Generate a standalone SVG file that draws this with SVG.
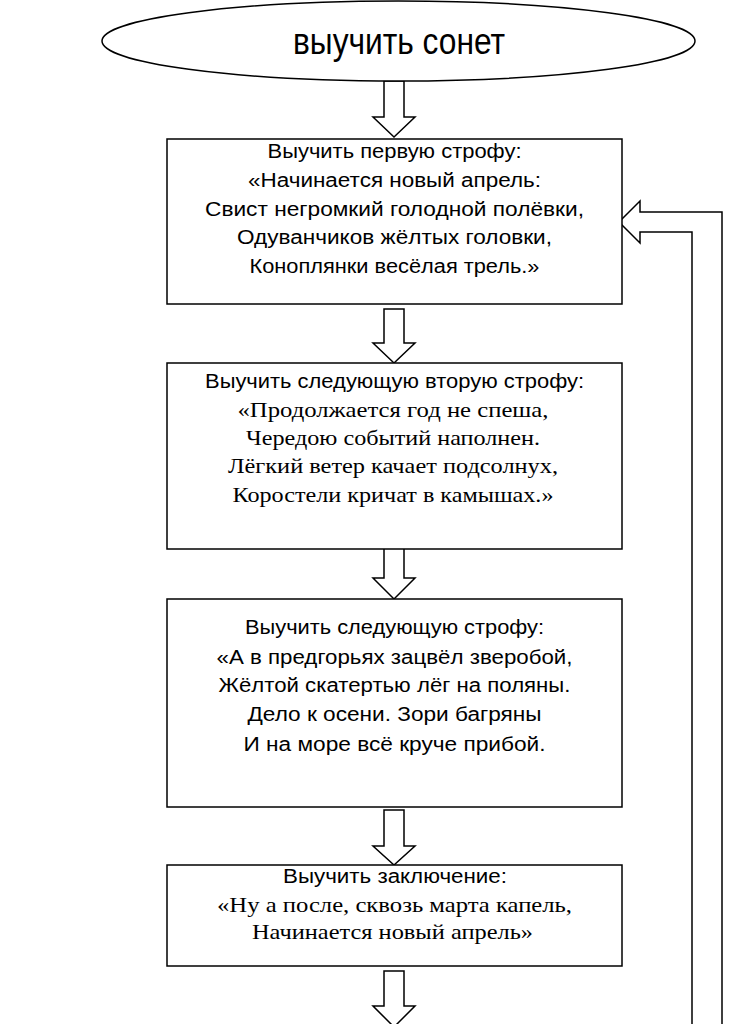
<svg xmlns="http://www.w3.org/2000/svg" width="756" height="1024" viewBox="0 0 756 1024">
<style>
.shape{fill:#fff;stroke:#000;stroke-width:1.5}
.line{fill:none;stroke:#000;stroke-width:1.5}
.sans{font-family:"Liberation Sans",Arial,sans-serif;font-size:20px;fill:#000;text-anchor:middle}
.serif{font-family:"Liberation Serif","Times New Roman",serif;font-size:22px;fill:#000;text-anchor:middle}
.big{font-family:"Liberation Sans",Arial,sans-serif;font-size:36px;fill:#000;text-anchor:middle}
</style>
<rect width="756" height="1024" fill="#fff"/>
<g id="connectors">
  <polygon class="shape" points="384,81 404,81 404,117 415,117 394,137 373,117 384,117"/>
  <polygon class="shape" points="384,309 404,309 404,343 415,343 394,363 373,343 384,343"/>
  <polygon class="shape" points="384,543 404,543 404,578 415,578 394,599 373,578 384,578"/>
  <polygon class="shape" points="384,810 404,810 404,846 415,846 394,865 373,846 384,846"/>
  <polygon class="shape" points="384,971 404,971 404,1006 415,1006 394,1027 373,1006 384,1006"/>
  <path class="shape" d="M692,1030 L692,232 L640,232 L640,243 L619,222 L640,201 L640,212 L722,212 L722,1030"/>
</g>
<g id="start">
  <ellipse class="shape" cx="398.5" cy="41" rx="296.5" ry="40"/>
  <text class="big" x="399" y="54" textLength="212" lengthAdjust="spacingAndGlyphs">выучить сонет</text>
</g>
<g id="stanza1">
  <rect class="shape" x="167" y="139" width="455" height="165"/>
  <text class="sans" x="394.5" y="158" textLength="254" lengthAdjust="spacingAndGlyphs">Выучить первую строфу:</text>
  <text class="sans" x="394.5" y="187" textLength="293" lengthAdjust="spacingAndGlyphs">«Начинается новый апрель:</text>
  <text class="sans" x="394.5" y="216" textLength="379" lengthAdjust="spacingAndGlyphs">Свист негромкий голодной полёвки,</text>
  <text class="sans" x="394.5" y="244" textLength="315" lengthAdjust="spacingAndGlyphs">Одуванчиков жёлтых головки,</text>
  <text class="sans" x="394.5" y="273" textLength="290" lengthAdjust="spacingAndGlyphs">Коноплянки весёлая трель.»</text>
</g>
<g id="stanza2">
  <rect class="shape" x="167" y="363" width="455" height="186"/>
  <text class="sans" x="394.5" y="388" textLength="379" lengthAdjust="spacingAndGlyphs">Выучить следующую вторую строфу:</text>
  <text class="serif" x="393" y="417" textLength="311" lengthAdjust="spacingAndGlyphs">«Продолжается год не спеша,</text>
  <text class="serif" x="393" y="445" textLength="294" lengthAdjust="spacingAndGlyphs">Чередою событий наполнен.</text>
  <text class="serif" x="393" y="473" textLength="330" lengthAdjust="spacingAndGlyphs">Лёгкий ветер качает подсолнух,</text>
  <text class="serif" x="393" y="502" textLength="321" lengthAdjust="spacingAndGlyphs">Коростели кричат в камышах.»</text>
</g>
<g id="stanza3">
  <rect class="shape" x="167" y="599" width="455" height="208"/>
  <text class="sans" x="394.5" y="634" textLength="299" lengthAdjust="spacingAndGlyphs">Выучить следующую строфу:</text>
  <text class="sans" x="394.5" y="664" textLength="356" lengthAdjust="spacingAndGlyphs">«А в предгорьях зацвёл зверобой,</text>
  <text class="sans" x="394.5" y="692" textLength="352" lengthAdjust="spacingAndGlyphs">Жёлтой скатертью лёг на поляны.</text>
  <text class="sans" x="394.5" y="721" textLength="294" lengthAdjust="spacingAndGlyphs">Дело к осени. Зори багряны</text>
  <text class="sans" x="394.5" y="751" textLength="302" lengthAdjust="spacingAndGlyphs">И на море всё круче прибой.</text>
</g>
<g id="conclusion">
  <rect class="shape" x="167" y="865" width="455" height="101"/>
  <text class="sans" x="395" y="883" textLength="224" lengthAdjust="spacingAndGlyphs">Выучить заключение:</text>
  <text class="serif" x="394.5" y="912" textLength="355" lengthAdjust="spacingAndGlyphs">«Ну а после, сквозь марта капель,</text>
  <text class="serif" x="392.5" y="939" textLength="281" lengthAdjust="spacingAndGlyphs">Начинается новый апрель»</text>
</g>
</svg>
